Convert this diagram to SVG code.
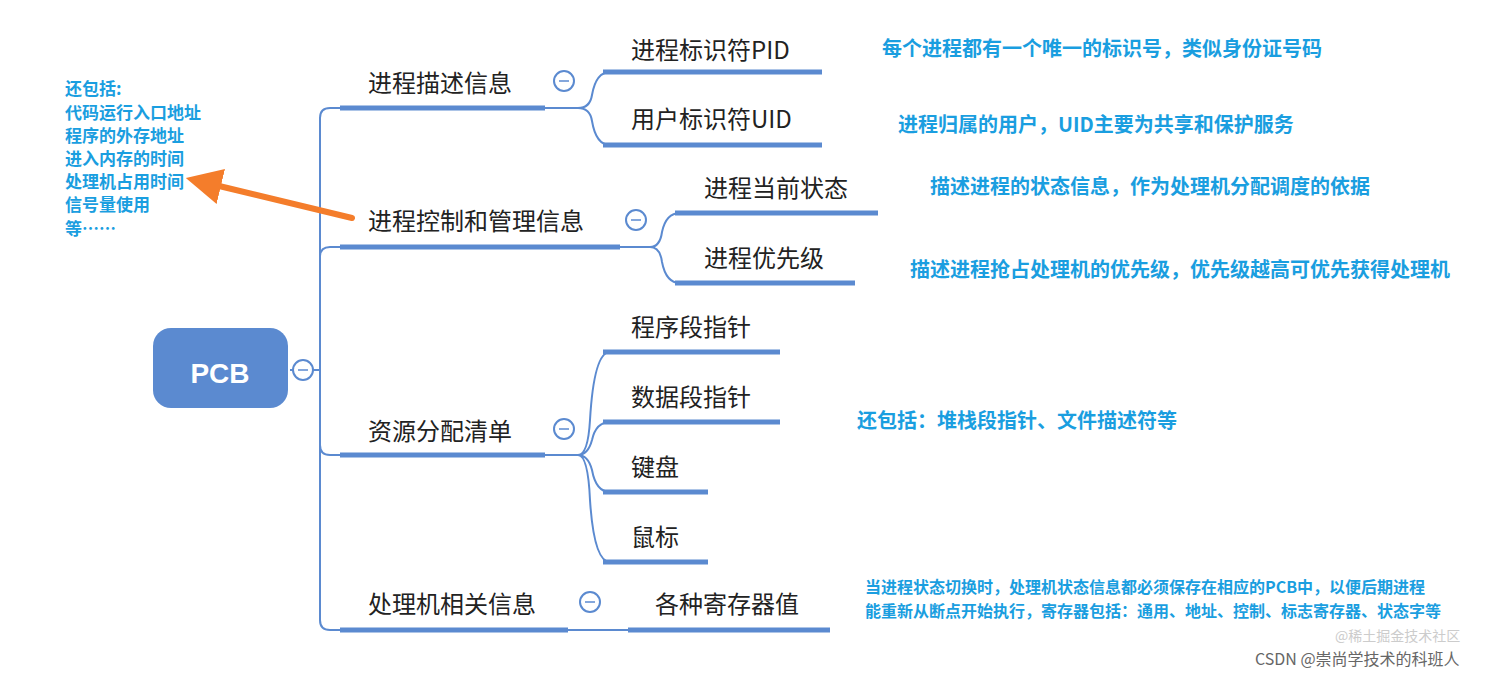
<svg xmlns="http://www.w3.org/2000/svg" width="1512" height="673" viewBox="0 0 1512 673">
<defs>
<style>
.t{font-family:"Noto Sans CJK SC","Liberation Sans",sans-serif;font-size:24px;fill:#222}
.u{stroke:#5b8ad0;stroke-width:5}
.c{fill:none;stroke:#5b8ad0;stroke-width:2}
.col{fill:#fff;stroke:#5b8ad0;stroke-width:2}
.b{font-family:"Noto Sans CJK SC","Liberation Sans",sans-serif;font-size:20px;font-weight:bold;fill:#1a9ee0}
.b2{font-family:"Noto Sans CJK SC","Liberation Sans",sans-serif;font-size:16px;font-weight:bold;fill:#1a9ee0}
.s{font-family:"Noto Sans CJK SC","Liberation Sans",sans-serif;font-size:17px;font-weight:bold;fill:#1a9ee0}
</style>
<marker id="ah" markerWidth="6" markerHeight="6" refX="1" refY="3" orient="auto" markerUnits="strokeWidth"><path d="M0,0 L6,3 L0,6 Z" fill="#f47d2b"/></marker>
</defs>
<rect width="1512" height="673" fill="#fff"/>
<g id="connectors">
<path class="c" d="M290,370 H320 M320,118 Q320,108 330,108 H340 M320,118 V620 Q320,630 330,630 H340 M320,257 Q320,247 330,247 H340 M320,445 Q320,455 330,455 H340"/>
<path class="c" d="M545,108 H578 Q590,108 592,95 Q596,72 610,72 M578,108 Q590,108 592,121 Q596,145 610,145"/>
<path class="c" d="M620,247 H650 Q660,247 662,232 Q666,213 680,213 M650,247 Q660,247 662,262 Q666,283 680,283"/>
<path class="c" d="M545,455 H578 Q588,455 590,420 Q594,352 610,352 M578,455 Q588,455 592,440 Q596,422 610,422 M578,455 Q588,455 592,470 Q596,492 610,492 M578,455 Q588,455 590,500 Q594,562 610,562"/>
<path class="c" d="M568,630 H630"/>
<line x1="352" y1="218" x2="215" y2="185" stroke="#f47d2b" stroke-width="6" stroke-linecap="round" marker-end="url(#ah)"/>
</g>
<g id="pcb"><rect x="153" y="328" width="135" height="80" rx="18" fill="#5b8ad0"/><text x="220" y="383" text-anchor="middle" font-family="Liberation Sans,sans-serif" font-weight="bold" font-size="28" fill="#fff">PCB</text><circle class="col" cx="303" cy="370" r="10"/><line x1="298" y1="370" x2="308" y2="370" stroke="#5b8ad0" stroke-width="1.5"/></g>
<g id="n1"><text class="t" x="368" y="92">进程描述信息</text><line class="u" x1="340" y1="108" x2="545" y2="108"/><circle class="col" cx="564" cy="81" r="10"/><line x1="559" y1="81" x2="569" y2="81" stroke="#5b8ad0" stroke-width="1.5"/></g>
<g id="n1a"><text class="t" x="631" y="59">进程标识符PID</text><line class="u" x1="603" y1="72" x2="822" y2="72"/></g>
<g id="n1b"><text class="t" x="631" y="128">用户标识符UID</text><line class="u" x1="603" y1="145" x2="822" y2="145"/></g>
<g id="n2"><text class="t" x="368" y="230">进程控制和管理信息</text><line class="u" x1="340" y1="247" x2="620" y2="247"/><circle class="col" cx="636" cy="220" r="10"/><line x1="631" y1="220" x2="641" y2="220" stroke="#5b8ad0" stroke-width="1.5"/></g>
<g id="n2a"><text class="t" x="704" y="197">进程当前状态</text><line class="u" x1="675" y1="213" x2="878" y2="213"/></g>
<g id="n2b"><text class="t" x="704" y="267">进程优先级</text><line class="u" x1="675" y1="283" x2="855" y2="283"/></g>
<g id="n3"><text class="t" x="368" y="440">资源分配清单</text><line class="u" x1="340" y1="455" x2="545" y2="455"/><circle class="col" cx="564" cy="429" r="10"/><line x1="559" y1="429" x2="569" y2="429" stroke="#5b8ad0" stroke-width="1.5"/></g>
<g id="n3a"><text class="t" x="631" y="336">程序段指针</text><line class="u" x1="603" y1="352" x2="780" y2="352"/></g>
<g id="n3b"><text class="t" x="631" y="406">数据段指针</text><line class="u" x1="603" y1="422" x2="780" y2="422"/></g>
<g id="n3c"><text class="t" x="631" y="476">键盘</text><line class="u" x1="603" y1="492" x2="708" y2="492"/></g>
<g id="n3d"><text class="t" x="631" y="546">鼠标</text><line class="u" x1="603" y1="562" x2="708" y2="562"/></g>
<g id="n4"><text class="t" x="368" y="613">处理机相关信息</text><line class="u" x1="340" y1="630" x2="568" y2="630"/><circle class="col" cx="590" cy="602" r="10"/><line x1="585" y1="602" x2="595" y2="602" stroke="#5b8ad0" stroke-width="1.5"/></g>
<g id="n4a"><text class="t" x="655" y="613">各种寄存器值</text><line class="u" x1="628" y1="630" x2="830" y2="630"/></g>
<g id="notes">
<text class="b" x="882" y="56">每个进程都有一个唯一的标识号，类似身份证号码</text>
<text class="b" x="898" y="132">进程归属的用户，UID主要为共享和保护服务</text>
<text class="b" x="930" y="194">描述进程的状态信息，作为处理机分配调度的依据</text>
<text class="b" x="910" y="277">描述进程抢占处理机的优先级，优先级越高可优先获得处理机</text>
<text class="b" x="857" y="428">还包括：堆栈段指针、文件描述符等</text>
<text class="b2" x="865" y="593">当进程状态切换时，处理机状态信息都必须保存在相应的PCB中，以便后期进程</text>
<text class="b2" x="865" y="617">能重新从断点开始执行，寄存器包括：通用、地址、控制、标志寄存器、状态字等</text>
<text class="s" x="65" y="95">还包括:</text>
<text class="s" x="65" y="119">代码运行入口地址</text>
<text class="s" x="65" y="142">程序的外存地址</text>
<text class="s" x="65" y="165">进入内存的时间</text>
<text class="s" x="65" y="188">处理机占用时间</text>
<text class="s" x="65" y="211">信号量使用</text>
<text class="s" x="65" y="235">等……</text>
</g>
<text x="1335" y="641" font-family="Noto Sans CJK SC,sans-serif" font-size="14" fill="#ccc">@稀土掘金技术社区</text>
<text x="1255" y="665" font-family="Noto Sans CJK SC,sans-serif" font-size="16" fill="#666">CSDN @崇尚学技术的科班人</text>
</svg>
